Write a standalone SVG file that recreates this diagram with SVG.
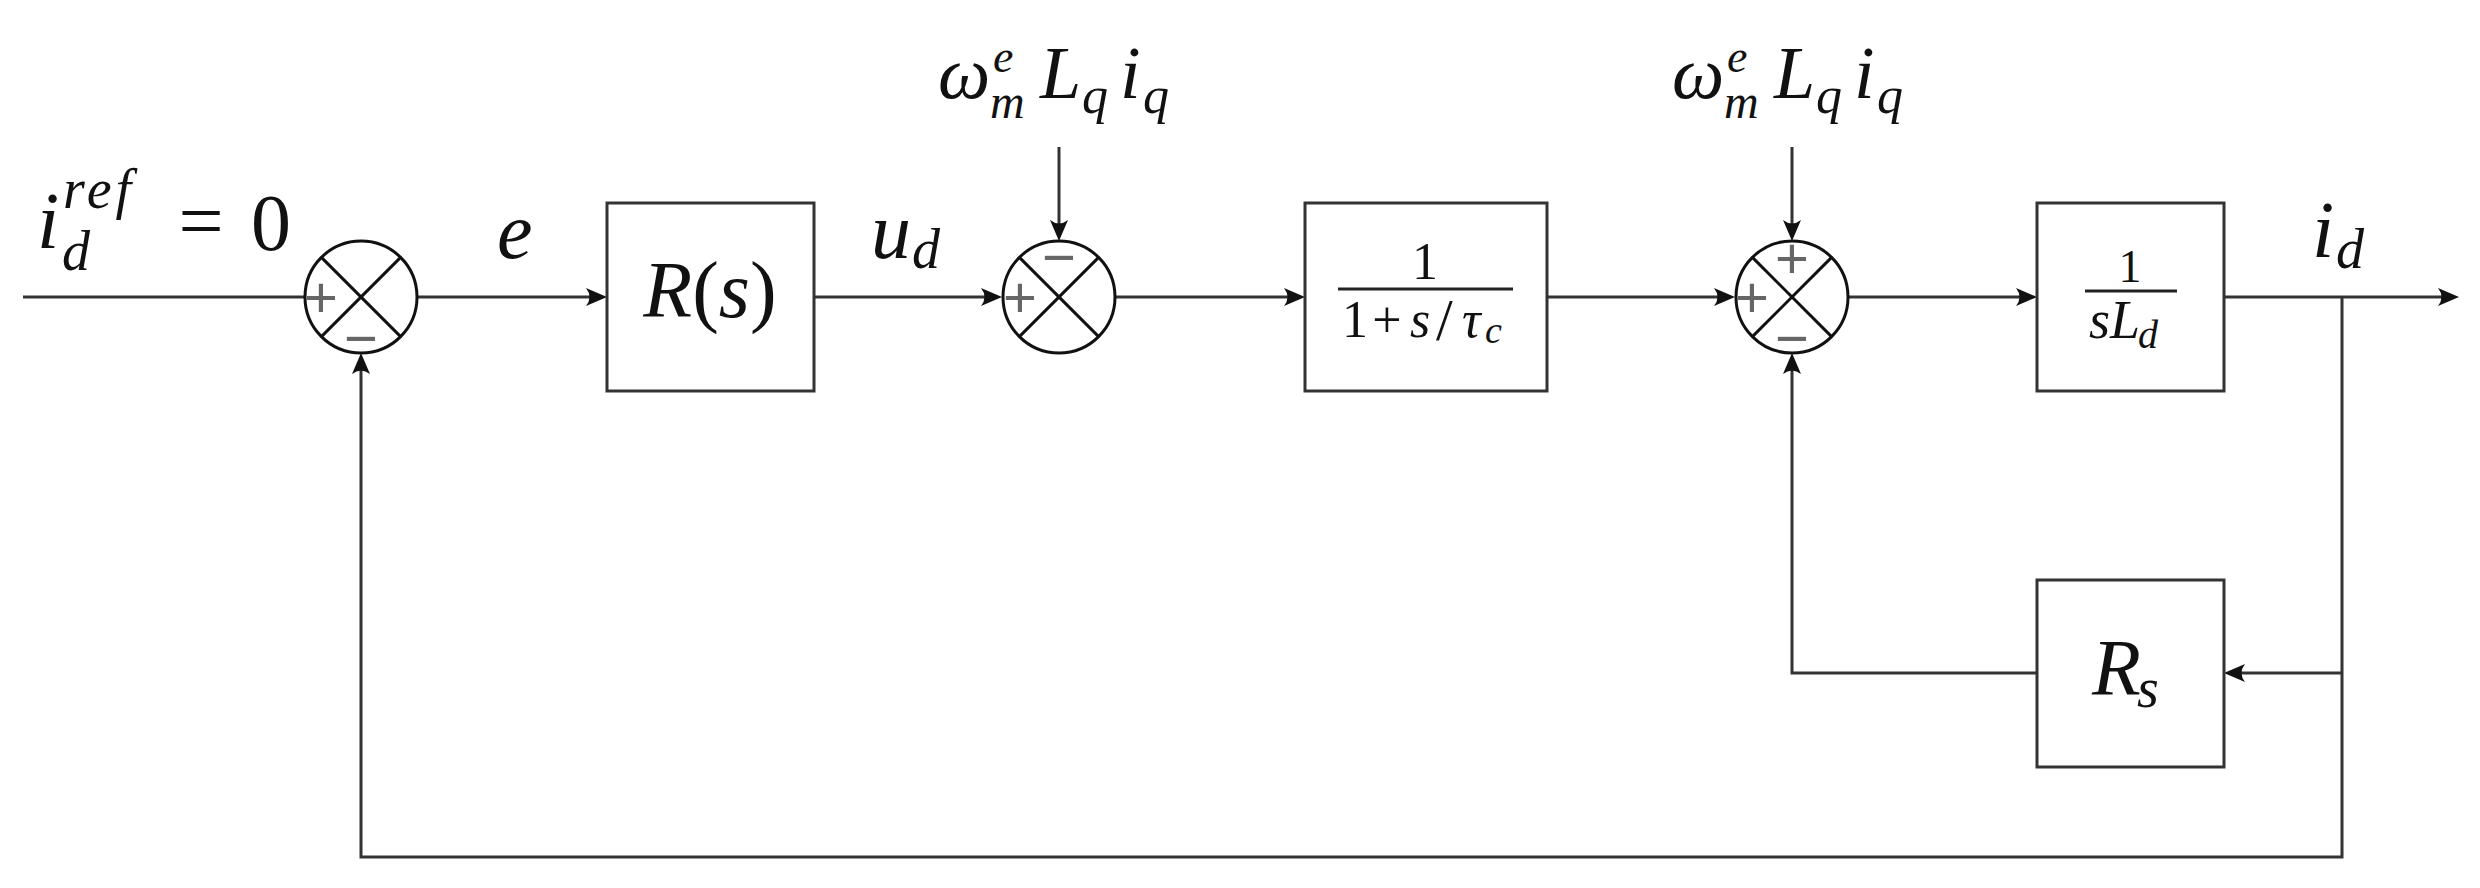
<svg xmlns="http://www.w3.org/2000/svg" width="2480" height="888" viewBox="0 0 2480 888">
<defs>
<style>
.ln{fill:none;stroke:#333;stroke-width:3}
.box{fill:#fff;stroke:#333;stroke-width:3}
.sum{fill:#fff;stroke:#111;stroke-width:3}
.x{stroke:#111;stroke-width:3}
.bar{stroke:#222;stroke-width:3}
.m{font-family:"Liberation Serif","DejaVu Serif",serif;font-style:italic;fill:#111}
.u{font-family:"Liberation Serif","DejaVu Serif",serif;font-style:normal;fill:#111}
.sg{font-family:"Liberation Sans","DejaVu Sans",sans-serif;fill:#666;font-size:58px;text-anchor:middle}
</style>
<marker id="ar" markerUnits="userSpaceOnUse" markerWidth="22" markerHeight="20" viewBox="0 0 22 20" refX="17" refY="10" orient="auto">
<path d="M22,10 L1,1 Q8,10 1,19 Z" fill="#111"/>
</marker>
</defs>
<rect width="2480" height="888" fill="#fff"/>

<g id="connectors">
<path class="ln" d="M23,297 H304"/>
<path class="ln" d="M417,297 H602" marker-end="url(#ar)"/>
<path class="ln" d="M814,297 H997" marker-end="url(#ar)"/>
<path class="ln" d="M1059,147 V236" marker-end="url(#ar)"/>
<path class="ln" d="M1116,297 H1300" marker-end="url(#ar)"/>
<path class="ln" d="M1547,297 H1730" marker-end="url(#ar)"/>
<path class="ln" d="M1792,147 V236" marker-end="url(#ar)"/>
<path class="ln" d="M1848,297 H2032" marker-end="url(#ar)"/>
<path class="ln" d="M2224,297 H2454" marker-end="url(#ar)"/>
<path class="ln" d="M2342,297 V857 H361 V358" marker-end="url(#ar)"/>
<path class="ln" d="M2342,673 H2229" marker-end="url(#ar)"/>
<path class="ln" d="M2037,673 H1792 V358" marker-end="url(#ar)"/>
</g>

<g id="label-input">
<text class="m" x="37" y="248" font-size="80">i</text>
<text class="m" x="63" y="208" font-size="56" letter-spacing="4">ref</text>
<text class="m" x="62" y="270" font-size="56">d</text>
<text class="u" x="201" y="248" font-size="80" text-anchor="middle">=</text>
<text class="u" x="271" y="250" font-size="80" text-anchor="middle">0</text>
</g>

<g id="sum1">
<circle class="sum" cx="361" cy="297" r="56"/>
<line class="x" x1="321.4" y1="257.4" x2="400.6" y2="336.6"/>
<line class="x" x1="321.4" y1="336.6" x2="400.6" y2="257.4"/>
<text class="sg" x="321" y="317">+</text>
<text class="sg" x="361" y="358">−</text>
</g>

<g id="label-e">
<text class="m" x="497" y="258" font-size="80">e</text>
</g>

<g id="block-R">
<rect class="box" x="607" y="203" width="207" height="188"/>
<text class="m" x="710" y="317" font-size="80" text-anchor="middle">R<tspan class="u">(</tspan>s<tspan class="u">)</tspan></text>
</g>

<g id="label-ud">
<text class="m" x="871" y="258" font-size="80">u</text>
<text class="m" x="912" y="268" font-size="56">d</text>
</g>

<g id="dist1">
<text class="m" x="938" y="98" font-size="74">ω</text>
<text class="m" x="993" y="72" font-size="46">e</text>
<text class="m" x="990" y="118" font-size="48">m</text>
<text class="m" x="1040" y="98" font-size="74">L</text>
<text class="m" x="1082" y="113" font-size="52">q</text>
<text class="m" x="1120" y="98" font-size="74">i</text>
<text class="m" x="1143" y="113" font-size="52">q</text>
</g>

<g id="sum2">
<circle class="sum" cx="1059" cy="297" r="56"/>
<line class="x" x1="1019.4" y1="257.4" x2="1098.6" y2="336.6"/>
<line class="x" x1="1019.4" y1="336.6" x2="1098.6" y2="257.4"/>
<text class="sg" x="1059" y="277">−</text>
<text class="sg" x="1020" y="317">+</text>
</g>

<g id="block-filter">
<rect class="box" x="1305" y="203" width="242" height="188"/>
<text class="u" x="1425" y="279" font-size="52" text-anchor="middle">1</text>
<line class="bar" x1="1338" y1="289" x2="1513" y2="289"/>
<text class="u" x="1342" y="337" font-size="52">1</text>
<text class="u" x="1387" y="337" font-size="52" text-anchor="middle">+</text>
<text class="m" x="1410" y="337" font-size="52">s</text>
<text class="u" x="1436" y="340" font-size="60">/</text>
<text class="m" x="1462" y="337" font-size="52">τ</text>
<text class="m" x="1485" y="343" font-size="38">c</text>
</g>

<g id="dist2">
<text class="m" x="1672" y="98" font-size="74">ω</text>
<text class="m" x="1727" y="72" font-size="46">e</text>
<text class="m" x="1724" y="118" font-size="48">m</text>
<text class="m" x="1774" y="98" font-size="74">L</text>
<text class="m" x="1816" y="113" font-size="52">q</text>
<text class="m" x="1854" y="98" font-size="74">i</text>
<text class="m" x="1877" y="113" font-size="52">q</text>
</g>

<g id="sum3">
<circle class="sum" cx="1792" cy="297" r="56"/>
<line class="x" x1="1752.4" y1="257.4" x2="1831.6" y2="336.6"/>
<line class="x" x1="1752.4" y1="336.6" x2="1831.6" y2="257.4"/>
<text class="sg" x="1792" y="278">+</text>
<text class="sg" x="1752" y="317">+</text>
<text class="sg" x="1792" y="358">−</text>
</g>

<g id="block-plant">
<rect class="box" x="2037" y="203" width="187" height="188"/>
<text class="u" x="2130" y="282" font-size="46" text-anchor="middle">1</text>
<line class="bar" x1="2085" y1="291" x2="2177" y2="291"/>
<text class="m" x="2089" y="338" font-size="54">s</text>
<text class="m" x="2110" y="338" font-size="54">L</text>
<text class="m" x="2138" y="348" font-size="40">d</text>
</g>

<g id="label-id">
<text class="m" x="2312" y="257" font-size="80">i</text>
<text class="m" x="2336" y="268" font-size="56">d</text>
</g>

<g id="block-Rs">
<rect class="box" x="2037" y="580" width="187" height="187"/>
<text class="m" x="2092" y="695" font-size="80">R</text>
<text class="m" x="2137" y="707" font-size="56">s</text>
</g>
</svg>
